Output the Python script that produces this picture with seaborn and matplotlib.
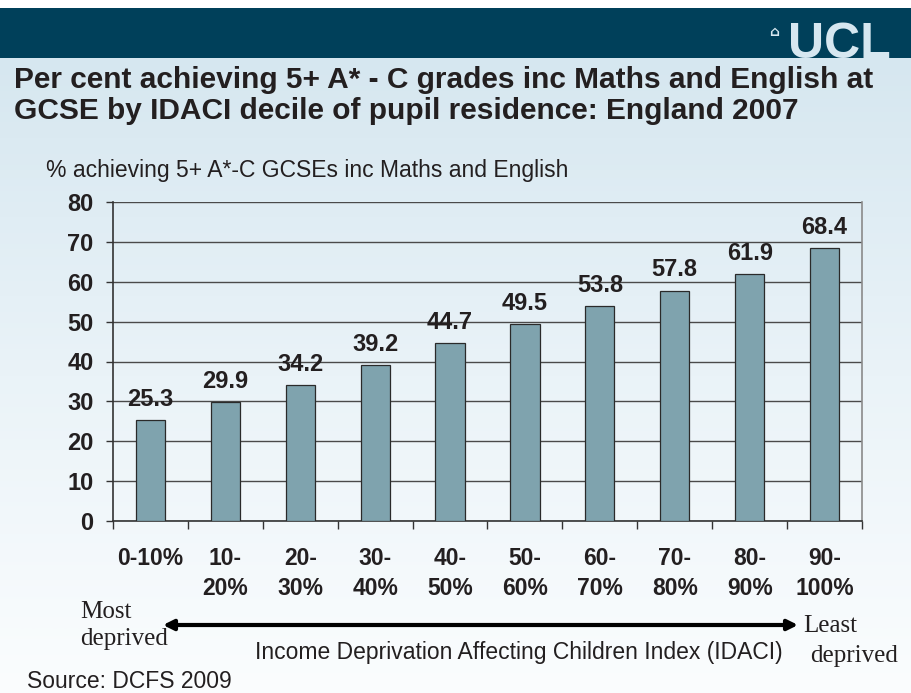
import numpy as np
import matplotlib
matplotlib.use("Agg")
import matplotlib.pyplot as plt
from matplotlib.colors import LinearSegmentedColormap
from matplotlib.patches import Rectangle
import seaborn as sns

categories = ["0-10%\n", "10-\n20%", "20-\n30%", "30-\n40%", "40-\n50%",
              "50-\n60%", "60-\n70%", "70-\n80%", "80-\n90%", "90-\n100%"]
values = [25.3, 29.9, 34.2, 39.2, 44.7, 49.5, 53.8, 57.8, 61.9, 68.4]
yticks = [0, 10, 20, 30, 40, 50, 60, 70, 80]

title1 = "Per cent achieving 5+ A* - C grades inc Maths and English at"
title2 = "GCSE by IDACI decile of pupil residence: England 2007"
ylabel = "% achieving 5+ A*-C GCSEs inc Maths and English"
xlabel = "Income Deprivation Affecting Children Index (IDACI)"
source = "Source: DCFS 2009"

sns.set_theme(style="white")
plt.rcParams['font.family'] = ['Liberation Sans', 'DejaVu Sans']

W, H = 912, 693
TXT = "#231f20"
fig = plt.figure(figsize=(W / 100, H / 100), dpi=100, facecolor="white")

def fx(x):
    return x / W

def fy(y):
    return 1 - y / H

# background
bg = fig.add_axes([0, 0, 1, 1], zorder=0)
bg.axis("off")
cmap = LinearSegmentedColormap.from_list("bgc", ["#d6e7f0", "#eaf3f8", "#fbfdfe"])
grad = np.linspace(0, 1, 256).reshape(-1, 1)
bg.imshow(grad, cmap=cmap, extent=[0, W, H, 58], aspect="auto", interpolation="bicubic")
bg.add_patch(Rectangle((0, 8), W, 50, color="#00405a", lw=0))
bg.set_xlim(0, W)
bg.set_ylim(H, 0)

# UCL logo text
bg.text(891, 58, "UCL", color="#d6e7f0", fontsize=36, fontweight="bold",
        ha="right", va="baseline")
bg.text(774, 32, "\u2302", color="#d6e7f0", fontsize=10, ha="center", va="center",
        family="DejaVu Sans", fontweight="bold")

# title
bg.text(14, 88, title1, fontsize=21.5, fontweight="bold", color=TXT,
        ha="left", va="baseline")
bg.text(14, 119, title2, fontsize=21.5, fontweight="bold", color=TXT,
        ha="left", va="baseline")
bg.text(46, 171, ylabel, fontsize=16.5, color=TXT, ha="left", va="center")

# plot axes
ax = fig.add_axes([fx(113), fy(521), (862 - 113) / W, (521 - 202) / H], zorder=2)
ax.patch.set_alpha(0)
sns.barplot(x=categories, y=values, color="#7fa3ae", width=0.39, saturation=1,
            edgecolor="#2a2a2a", linewidth=0.9, ax=ax, zorder=3)
ax.set_xlim(-0.5, 9.5)
ax.set_ylim(0, 80)
ax.set_yticks(yticks)
ax.set_yticklabels([str(v) for v in yticks], fontsize=17, fontweight="bold", color=TXT)
ax.yaxis.grid(True, color="#4a4a4a", lw=1.0, zorder=0)
ax.xaxis.grid(False)
ax.set_axisbelow(True)
ax.tick_params(axis="y", length=5, width=1, color="#333333", direction="out", pad=9, left=True)
ax.set_xticks(range(len(categories)))
ax.set_xticklabels(categories, fontsize=16.5, fontweight="bold", color=TXT,
                   linespacing=1.38, multialignment="center")
ax.tick_params(axis="x", which="major", length=0, pad=18.5)
ax.set_xticks(np.arange(-0.5, 10, 1), minor=True)
ax.tick_params(axis="x", which="minor", length=6, width=1, color="#333333",
               direction="out", bottom=True)
ax.set_xlabel("")
ax.set_ylabel("")
for s in ["left", "bottom"]:
    ax.spines[s].set_color("#333333")
    ax.spines[s].set_linewidth(1.2)
ax.spines["top"].set_visible(False)
ax.spines["right"].set_color("#8a8a8a")
ax.spines["right"].set_linewidth(1.2)

for cont in ax.containers:
    ax.bar_label(cont, fmt="%.1f", padding=6.5, fontsize=17, fontweight="bold", color=TXT)

# bottom annotations
bg.annotate("", xy=(163, 625), xytext=(798, 625),
            arrowprops=dict(arrowstyle="<|-|>", lw=3, color="black", mutation_scale=15,
                            shrinkA=0, shrinkB=0))
serif = ["Liberation Serif", "DejaVu Serif"]
bg.text(80, 612, "Most", fontsize=18, family=serif, ha="left", va="center", color=TXT)
bg.text(80, 639, "deprived", fontsize=18, family=serif, ha="left", va="center", color=TXT)
bg.text(803, 626, "Least", fontsize=18, family=serif, ha="left", va="center", color=TXT)
bg.text(810, 656, "deprived", fontsize=18, family=serif, ha="left", va="center", color=TXT)
bg.text(783, 653, xlabel, fontsize=16.5, ha="right", va="center", color=TXT)
bg.text(27, 682, source, fontsize=16.5, ha="left", va="center", color=TXT)

fig.savefig("out.png", dpi=100, facecolor="white")
